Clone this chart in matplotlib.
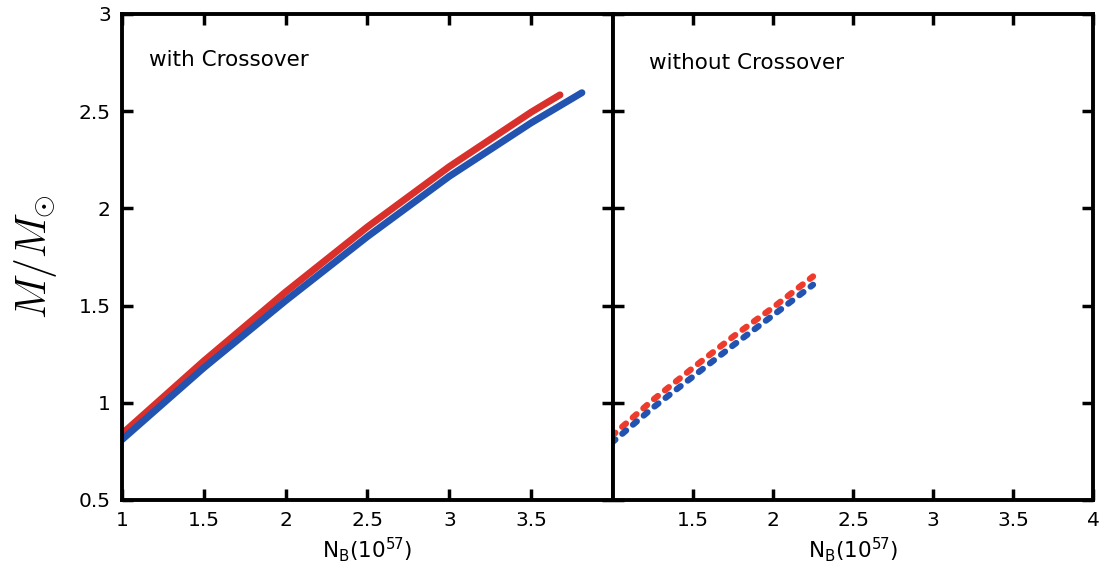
import numpy as np
import matplotlib
matplotlib.use("Agg")
import matplotlib.pyplot as plt

# valores
nb_con = [1.0, 1.5, 2.0, 2.5, 3.0, 3.5, 3.676]
m_con_rojo = [0.84, 1.215, 1.57, 1.905, 2.215, 2.495, 2.584]
nb_con_az = [1.0, 1.5, 2.0, 2.5, 3.0, 3.5, 3.81]
m_con_azul = [0.81, 1.18, 1.525, 1.855, 2.165, 2.44, 2.595]

nb_sin = [1.0, 1.25, 1.5, 1.75, 2.0, 2.25]
m_sin_rojo = [0.835, 1.015, 1.18, 1.34, 1.49, 1.65]
m_sin_azul = [0.80, 0.975, 1.135, 1.295, 1.45, 1.607]

ticks_izq = [1, 1.5, 2, 2.5, 3, 3.5]
ticks_der = [1.5, 2, 2.5, 3, 3.5, 4]
ticks_y = [0.5, 1, 1.5, 2, 2.5, 3]

ROJO = '#d9302b'
AZUL = '#2253b0'
ROJO2 = '#ee3b2c'

plt.rcParams['font.family'] = ['DejaVu Sans']
fig = plt.figure(figsize=(11.16, 5.78), dpi=100)
ax1 = fig.add_axes([0.1093, 0.135, 0.44, 0.8408])
ax2 = fig.add_axes([0.5493, 0.135, 0.4301, 0.8408])

ax1.plot(nb_con, m_con_rojo, color=ROJO, lw=5, solid_capstyle='round')
ax1.plot(nb_con_az, m_con_azul, color=AZUL, lw=5, solid_capstyle='round')

guion = (0.3, (0.8, 1.45))
ax2.plot(nb_sin, m_sin_rojo, color=ROJO2, lw=4.5, linestyle=guion, dash_capstyle='round')
ax2.plot(nb_sin, m_sin_azul, color=AZUL, lw=4.5, linestyle=guion, dash_capstyle='round')

for ax, tk in ((ax1, ticks_izq), (ax2, ticks_der)):
    ax.set_xlim(1, 4)
    ax.set_ylim(0.5, 3)
    ax.set_xticks(tk)
    ax.set_xticklabels([('%g' % t) for t in tk])
    ax.set_yticks(ticks_y)
    ax.tick_params(direction='in', length=8, width=2.5, top=True, right=True,
                   labelsize=14.5, pad=8)
    for s in ax.spines.values():
        s.set_linewidth(2.8)
    ax.set_xlabel(r'N$_\mathregular{B}$(10$^\mathregular{57}$)', fontsize=15.5, labelpad=4)

ax1.set_yticklabels(['%g' % t for t in ticks_y])
ax2.set_yticklabels([])
ax1.set_ylabel(r'$M/M_{\odot}$', fontsize=30, labelpad=14)
ax1.yaxis.label.set_math_fontfamily('cm')

ax1.text(0.055, 0.905, 'with Crossover', transform=ax1.transAxes, fontsize=15.5, va='center')
ax2.text(0.075, 0.899, 'without Crossover', transform=ax2.transAxes, fontsize=15.5, va='center')

fig.savefig('out.png', dpi=100)
